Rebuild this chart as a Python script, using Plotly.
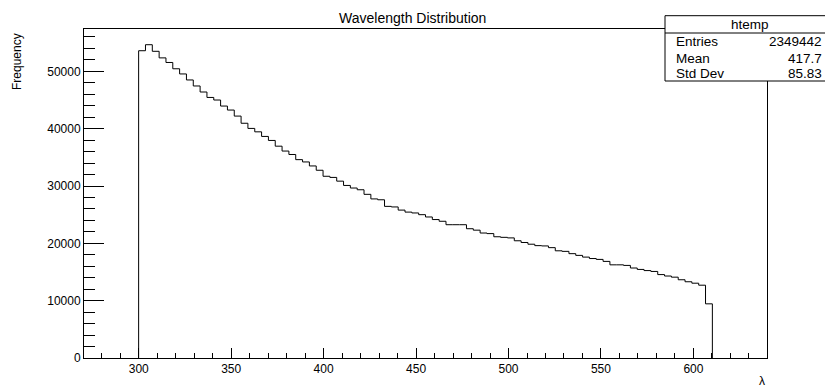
import plotly.graph_objects as go

# ---- data ----
axis_min = 270.4
axis_max = 639.8
n_bins = 100
first_filled_bin = 8
counts = [
    53600, 54650, 53500, 52350, 51550, 50450, 49550, 48500, 47450, 46400,
    45450, 45000, 43950, 43250, 42200, 40950, 40050, 39450, 38650, 37950,
    36950, 36100, 35500, 34600, 34200, 33500, 32750, 31700, 31500, 30850,
    30100, 29650, 29350, 28550, 27750, 27600, 26450, 26350, 25800, 25450,
    25300, 25000, 24600, 24150, 23850, 23250, 23250, 23250, 22550, 22300,
    21800, 21700, 21150, 21050, 20950, 20450, 20150, 19850, 19600, 19550,
    19250, 18700, 18600, 18200, 17900, 17600, 17350, 17200, 16850, 16250,
    16250, 16150, 15700, 15450, 15250, 15100, 14550, 14300, 14100, 13650,
    13300, 13050, 12700, 9450,
]
x_tick_vals = [300, 350, 400, 450, 500, 550, 600]
y_tick_vals = [0, 10000, 20000, 30000, 40000, 50000]
stats_labels = ["Entries", "Mean", "Std Dev"]
stats_values = ["2349442", "417.7", "85.83"]
hist_name = "htemp"
title_text = "Wavelength Distribution"

# ---- build step outline ----
bw = (axis_max - axis_min) / n_bins
edges = [axis_min + (first_filled_bin + i) * bw for i in range(len(counts) + 1)]
xs = [edges[0]] + edges[:-1] + [edges[-1]]
ys = [0] + counts + [0]

W, H = 825, 388
L, R, T, B = 84, 58, 29, 30
pw, ph = W - L - R, H - T - B

def px(x):
    return (x - L) / pw

def py(y):
    return (H - B - y) / ph

fig = go.Figure()
fig.add_trace(go.Scatter(x=xs, y=ys, mode="lines", line=dict(color="black", width=1, shape="hv"),
                         hoverinfo="skip", showlegend=False))

font = "Liberation Sans, Arial, Helvetica, sans-serif"
fig.update_layout(
    width=W, height=H,
    margin=dict(l=L, r=R, t=T, b=B),
    paper_bgcolor="white", plot_bgcolor="white",
    font=dict(family=font, color="black", size=12),
    showlegend=False,
    xaxis=dict(range=[axis_min, axis_max], tickvals=x_tick_vals, ticks="inside", ticklen=10,
               tickcolor="black", showgrid=False, zeroline=False, showline=True, mirror=True,
               linecolor="black", linewidth=1, tickfont=dict(size=12),
               minor=dict(dtick=10, tick0=0, ticks="inside", ticklen=5, tickcolor="black")),
    yaxis=dict(range=[0, 57390], tickvals=y_tick_vals, tickformat="d", ticks="inside", ticklen=20,
               tickcolor="black", showgrid=False, zeroline=False, showline=True, mirror=True,
               linecolor="black", linewidth=1, tickfont=dict(size=12),
               minor=dict(dtick=2000, tick0=0, ticks="inside", ticklen=11, tickcolor="black")),
)

shapes = []
# stats box
bx0, bx1, by0, by1 = 665, 836, 15.7, 81
shapes.append(dict(type="rect", xref="paper", yref="paper", x0=px(bx0), x1=px(bx1),
                   y0=py(by1), y1=py(by0), line=dict(color="black", width=1),
                   fillcolor="white", layer="above"))
shapes.append(dict(type="line", xref="paper", yref="paper", x0=px(bx0), x1=px(bx1),
                   y0=py(33), y1=py(33), line=dict(color="black", width=1), layer="above"))
fig.update_layout(shapes=shapes)

ann = []
ann.append(dict(text=title_text, x=px(412.5), y=py(18), xref="paper", yref="paper",
                showarrow=False, xanchor="center", yanchor="middle", font=dict(size=14)))
ann.append(dict(text=hist_name, x=px(750), y=py(24.5), xref="paper", yref="paper",
                showarrow=False, xanchor="center", yanchor="middle", font=dict(size=13.5)))
for i, (lab, val) in enumerate(zip(stats_labels, stats_values)):
    yy = [41.7, 58, 73.7][i]
    ann.append(dict(text=lab, x=px(674), y=py(yy), xref="paper", yref="paper",
                    showarrow=False, xanchor="left", yanchor="middle", font=dict(size=13.5)))
    ann.append(dict(text=val, x=px(824), y=py(yy), xref="paper", yref="paper",
                    showarrow=False, xanchor="right", yanchor="middle", font=dict(size=13.5)))
ann.append(dict(text="Frequency", x=px(17), y=py(62), xref="paper", yref="paper", textangle=-90,
                showarrow=False, xanchor="center", yanchor="middle", font=dict(size=12)))
ann.append(dict(text="λ", x=px(762), y=py(381), xref="paper", yref="paper",
                showarrow=False, xanchor="center", yanchor="middle", font=dict(size=12)))
fig.update_layout(annotations=ann)

fig.write_html("out.html", config={"displayModeBar": False},
               post_script="document.body.style.margin='0';document.body.style.overflow='hidden';")
